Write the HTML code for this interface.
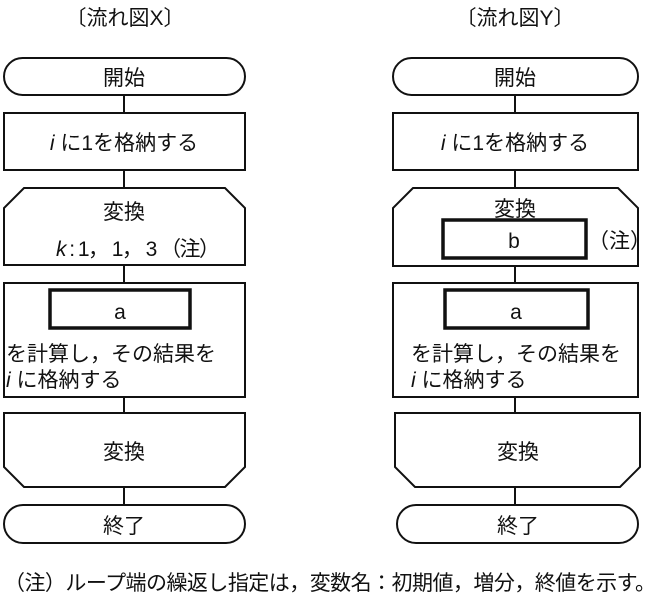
<!DOCTYPE html>
<html><head><meta charset="utf-8"><style>
body{margin:0;background:#fff;}
svg text{font-family:"Liberation Sans","Noto Sans CJK JP",sans-serif;fill:#111;font-size:21px;}
</style></head><body>
<svg width="662" height="607" viewBox="0 0 662 607">
<g stroke="#111" stroke-width="2" fill="none">
<line x1="124" y1="95" x2="124" y2="505"/>
<rect x="4" y="58" width="241" height="37" rx="18.5" fill="#fff"/>
<rect x="4" y="113" width="241" height="57" fill="#fff"/>
<path d="M24 188 H225 L245 208 V265 H4 V208 Z" fill="#fff"/>
<rect x="4" y="283" width="241" height="114" fill="#fff"/>
<rect x="50" y="290" width="140" height="38" stroke-width="3.5"/>
<path d="M4 413 H245 V467 L225 487 H24 L4 467 Z" fill="#fff"/>
<rect x="4" y="505" width="241" height="38" rx="19" fill="#fff"/>
<line x1="515" y1="95" x2="515" y2="505"/>
<rect x="393" y="58" width="245" height="37" rx="18.5" fill="#fff"/>
<rect x="393" y="113" width="245" height="57" fill="#fff"/>
<path d="M413 188 H618 L638 208 V266 H393 V208 Z" fill="#fff"/>
<rect x="443" y="220" width="143" height="38" stroke-width="3.5"/>
<rect x="393" y="283" width="245" height="114" fill="#fff"/>
<rect x="445" y="290" width="143" height="38" stroke-width="3.5"/>
<path d="M395 413 H640 V467 L620 487 H415 L395 467 Z" fill="#fff"/>
<rect x="397" y="505" width="241" height="38" rx="19" fill="#fff"/>
</g>
<text x="125" y="25" text-anchor="middle">〔流れ図X〕</text>
<text x="515" y="25" text-anchor="middle">〔流れ図Y〕</text>
<text x="124" y="85" text-anchor="middle">開始</text>
<text x="124" y="150" text-anchor="middle"><tspan font-style="italic">i</tspan> に1を格納する</text>
<text x="124" y="219" text-anchor="middle">変換</text>
<text x="56" y="256" textLength="164"><tspan font-style="italic">k</tspan> : 1， 1， 3 （注）</text>
<text x="120" y="319" text-anchor="middle">a</text>
<text x="6" y="361" font-size="23">を計算し，その結果を</text>
<text x="6" y="387" font-size="22"><tspan font-style="italic">i</tspan> に格納する</text>
<text x="124" y="459" text-anchor="middle">変換</text>
<text x="124" y="533" text-anchor="middle">終了</text>
<text x="515" y="85" text-anchor="middle">開始</text>
<text x="515" y="150" text-anchor="middle"><tspan font-style="italic">i</tspan> に1を格納する</text>
<text x="515" y="216" text-anchor="middle">変換</text>
<text x="514" y="248" text-anchor="middle">b</text>
<text x="588" y="248">（注）</text>
<text x="516" y="319" text-anchor="middle">a</text>
<text x="411" y="361" font-size="23">を計算し，その結果を</text>
<text x="411" y="387" font-size="22"><tspan font-style="italic">i</tspan> に格納する</text>
<text x="518" y="459" text-anchor="middle">変換</text>
<text x="518" y="533" text-anchor="middle">終了</text>
<text x="4" y="590" font-size="20" textLength="652">（注）ループ端の繰返し指定は，変数名：初期値，増分，終値を示す。</text>
</svg>
</body></html>
